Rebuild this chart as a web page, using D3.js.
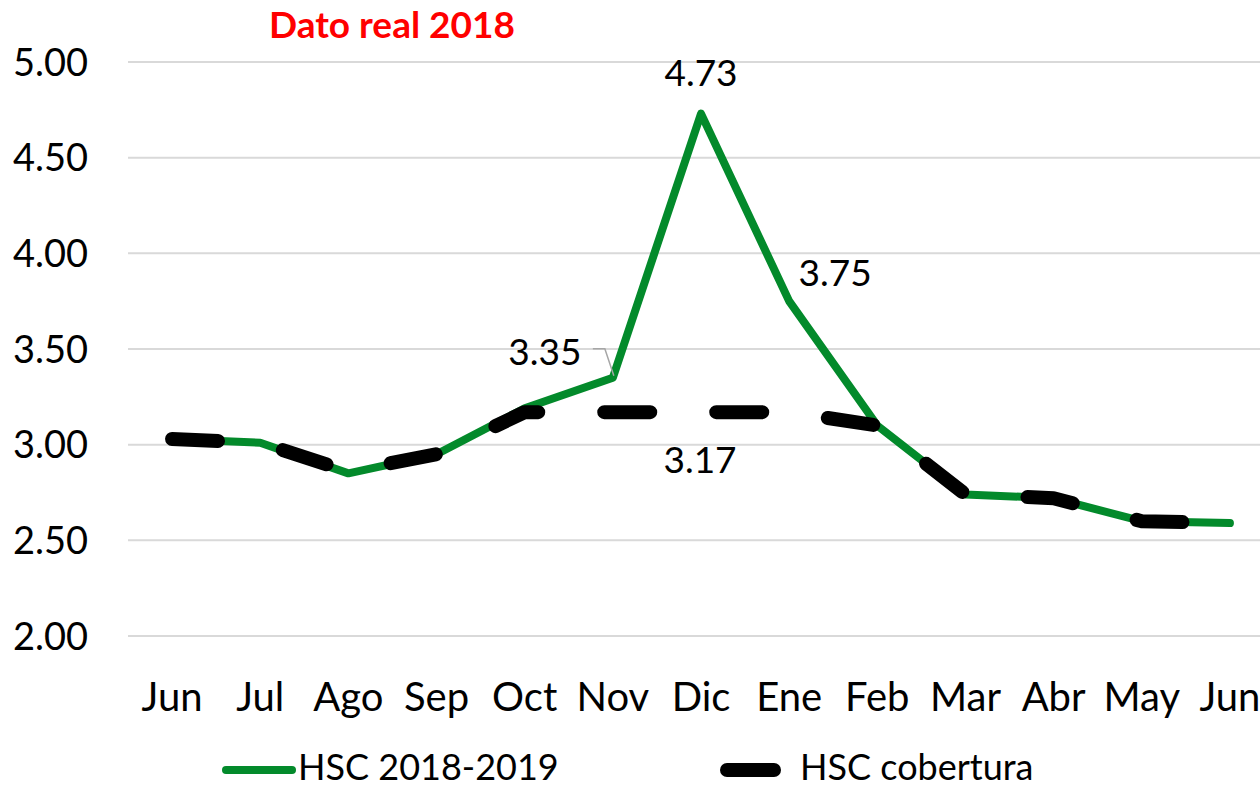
<!DOCTYPE html>
<html>
<head>
<meta charset="utf-8">
<script src="https://cdn.jsdelivr.net/npm/d3@7"></script>
<style>
  html, body { margin: 0; padding: 0; background: #fff; }
  svg { display: block; font-family: Lato, "Liberation Sans", sans-serif; }
</style>
</head>
<body>
<svg id="chart" width="1260" height="789"></svg>
<script>
// ─── Data ─────────────────────────────────────────────────────────────────
const months    = ['Jun', 'Jul', 'Ago', 'Sep', 'Oct', 'Nov', 'Dic', 'Ene', 'Feb', 'Mar', 'Abr', 'May', 'Jun'];
const hscReal   = [3.03, 3.01, 2.85, 2.95, 3.19, 3.35, 4.73, 3.75, 3.10, 2.74, 2.72, 2.60, 2.59];
const hscCober  = [3.03, 3.01, 2.86, 2.95, 3.17, 3.17, 3.17, 3.17, 3.10, 2.74, 2.72, 2.60, 2.59];
const yTicks    = [2.0, 2.5, 3.0, 3.5, 4.0, 4.5, 5.0];
const seriesNames = ['HSC 2018-2019', 'HSC cobertura'];

const GREEN = '#038a2b';
const svg = d3.select('#chart');

// ─── Scales ───────────────────────────────────────────────────────────────
const x = d3.scaleBand().domain(d3.range(months.length)).range([128, 1274]).padding(0);
const cx = i => x(i) + x.bandwidth() / 2;
const y = d3.scaleLinear().domain([2, 5]).range([636, 62]);

// gridlines
svg.append('g')
  .selectAll('line')
  .data(yTicks)
  .join('line')
    .attr('x1', 128).attr('x2', 1274)
    .attr('y1', d => y(d)).attr('y2', d => y(d))
    .attr('stroke', '#d9d9d9').attr('stroke-width', 2);

// y axis labels
svg.append('g')
  .selectAll('text')
  .data(yTicks)
  .join('text')
    .attr('x', 88).attr('y', d => y(d))
    .attr('dy', '0.36em')
    .attr('text-anchor', 'end')
    .attr('font-size', 38)
    .attr('fill', '#000')
    .text(d => d3.format('.2f')(d));

// x axis labels
svg.append('g')
  .selectAll('text')
  .data(months)
  .join('text')
    .attr('x', (d, i) => cx(i)).attr('y', 711)
    .attr('text-anchor', 'middle')
    .attr('font-size', 40)
    .attr('fill', '#000')
    .text(d => d);

// ─── Lines ────────────────────────────────────────────────────────────────
const line = d3.line().x((d, i) => cx(i)).y(d => y(d));

svg.append('path')
  .datum(hscReal)
  .attr('d', line)
  .attr('fill', 'none')
  .attr('stroke', GREEN)
  .attr('stroke-width', 8)
  .attr('stroke-linejoin', 'round')
  .attr('stroke-linecap', 'round');

svg.append('path')
  .datum(hscCober)
  .attr('d', line)
  .attr('fill', 'none')
  .attr('stroke', '#000')
  .attr('stroke-width', 14)
  .attr('stroke-dasharray', '46 66')
  .attr('stroke-linejoin', 'round')
  .attr('stroke-linecap', 'round');

// ─── Data labels ──────────────────────────────────────────────────────────
const labelFmt = d3.format('.2f');
const lbl = (txt, lx, ly) => svg.append('text')
  .attr('x', lx).attr('y', ly).attr('dy', '0.36em')
  .attr('text-anchor', 'middle')
  .attr('font-size', 37).attr('fill', '#000')
  .text(txt);

lbl(labelFmt(hscReal[6]), cx(6), y(hscReal[6]) - 41);
lbl(labelFmt(hscReal[7]), cx(7) + 46, y(hscReal[7]) - 28);
lbl(labelFmt(hscReal[5]), cx(5) - 68, y(hscReal[5]) - 26);
lbl(labelFmt(hscCober[6]), cx(6) - 1, y(hscCober[6]) + 48);

// leader line for 3.35
svg.append('path')
  .attr('d', `M${cx(5) - 20},${y(hscReal[5]) - 29} L${cx(5) - 8},${y(hscReal[5]) - 29} L${cx(5) + 1},${y(hscReal[5]) - 2}`)
  .attr('fill', 'none').attr('stroke', '#a6a6a6').attr('stroke-width', 1.5);

// ─── Title ────────────────────────────────────────────────────────────────
svg.append('text')
  .attr('x', 392).attr('y', 25).attr('dy', '0.36em')
  .attr('text-anchor', 'middle')
  .attr('font-size', 37).attr('font-weight', 'bold')
  .attr('fill', '#ff0000')
  .text('Dato real 2018');

// ─── Legend ───────────────────────────────────────────────────────────────
const legend = svg.append('g');
legend.append('line')
  .attr('x1', 226).attr('x2', 292).attr('y1', 770).attr('y2', 770)
  .attr('stroke', GREEN).attr('stroke-width', 8).attr('stroke-linecap', 'round');
legend.append('text')
  .attr('x', 298).attr('y', 767).attr('dy', '0.36em')
  .attr('font-size', 36).attr('fill', '#000')
  .text(seriesNames[0]);
legend.append('line')
  .attr('x1', 727).attr('x2', 774).attr('y1', 770).attr('y2', 770)
  .attr('stroke', '#000').attr('stroke-width', 14).attr('stroke-linecap', 'round');
legend.append('text')
  .attr('x', 800).attr('y', 767).attr('dy', '0.36em')
  .attr('font-size', 36).attr('fill', '#000')
  .text(seriesNames[1]);
</script>
</body>
</html>
